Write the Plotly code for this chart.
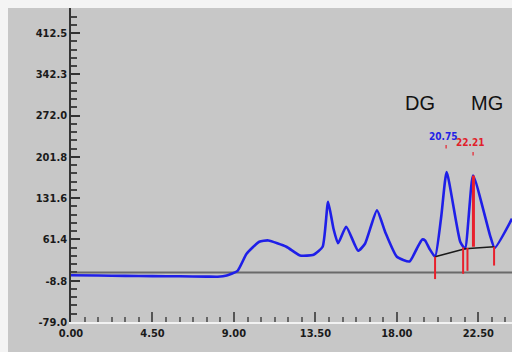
import plotly.graph_objects as go

# ---- data ----
time_min = [0.0, 1.5, 3.0, 4.5, 6.0, 7.5, 8.1, 8.6, 9.2, 9.7, 10.4, 10.9, 11.9, 12.65, 13.4,
            13.9, 14.2, 14.5, 14.75, 15.2, 15.86, 16.24, 16.9, 17.35, 18.0, 18.7, 19.1,
            19.4, 19.56, 19.8, 20.11, 20.45, 20.75, 21.5, 21.77, 22.21, 23.15, 23.4, 24.36]
signal = [0.5, 0.0, -0.5, -1.0, -1.3, -1.8, -2.0, 0.0, 8.0, 37.0, 57.5, 59.7, 49.0, 34.2, 35.4,
          49.0, 125.5, 79.6, 55.0, 83.0, 42.2, 54.0, 110.8, 74.5, 32.0, 24.0, 45.6,
          61.4, 59.7, 45.6, 32.0, 100.0, 176.0, 57.5, 46.0, 170.0, 68.0, 47.0, 96.7]

ref_line_level = 5.0
baseline_t = [20.11, 21.77, 23.37]
baseline_v = [32.0, 45.6, 49.0]

# integration event markers (time, top, bottom)
marker_t = [20.11, 21.66, 21.9, 23.37]
marker_top = [32.0, 48.0, 47.0, 49.0]
marker_bot = [-6.0, 3.0, 8.0, 17.0]
apex_t = 22.23
apex_top = 170.0
apex_bot = 49.0

peak_names = ["DG", "MG"]
peak_name_t = [19.28, 22.98]
peak_name_v = [294.0, 294.0]
peak_rt_text = ["20.75", "22.21"]
peak_rt_t = [20.55, 22.06]
peak_rt_v = [237.0, 227.0]
peak_rt_colors = ["#2323e6", "#e0202a"]
rt_tick_t = [20.72, 22.21]
rt_tick_v = [[216.0, 222.0], [204.0, 210.0]]

y_tick_vals = [-79.0, -8.8, 61.4, 131.6, 201.8, 272.0, 342.3, 412.5]
y_tick_text = ["-79.0", "-8.8", "61.4", "131.6", "201.8", "272.0", "342.3", "412.5"]
x_tick_vals = [0.0, 4.5, 9.0, 13.5, 18.0, 22.5]
x_tick_text = ["0.00", "4.50", "9.00", "13.50", "18.00", "22.50"]

BG = "#c7c7c7"
FONT = "DejaVu Sans Condensed, Liberation Sans, Arial, sans-serif"

fig = go.Figure()

# horizontal reference line
fig.add_trace(go.Scatter(x=[0, 24.36], y=[ref_line_level, ref_line_level], mode="lines",
                         line=dict(color="#6a6a6a", width=2), hoverinfo="skip"))

# main chromatogram trace
fig.add_trace(go.Scatter(x=time_min, y=signal, mode="lines",
                         line=dict(color="#1f1fe8", width=2.6, shape="spline", smoothing=0.5),
                         hoverinfo="skip"))

# integration baseline
fig.add_trace(go.Scatter(x=baseline_t, y=baseline_v, mode="lines",
                         line=dict(color="#1a1a1a", width=1.6), hoverinfo="skip"))

# red event markers
for t, top, bot in zip(marker_t, marker_top, marker_bot):
    fig.add_trace(go.Scatter(x=[t, t], y=[top, bot], mode="lines",
                             line=dict(color="#e8202c", width=2), hoverinfo="skip"))
fig.add_trace(go.Scatter(x=[apex_t, apex_t], y=[apex_top, apex_bot], mode="lines",
                         line=dict(color="#e8202c", width=3), hoverinfo="skip"))
for t, vv in zip(rt_tick_t, rt_tick_v):
    fig.add_trace(go.Scatter(x=[t, t], y=vv, mode="lines",
                             line=dict(color="#e8202c", width=1.2), hoverinfo="skip"))

for name, t, v in zip(peak_names, peak_name_t, peak_name_v):
    fig.add_annotation(x=t, y=v, xref="x", yref="y", text=name, showarrow=False,
                       font=dict(family="Liberation Sans, Arial", size=20, color="#111111"))
for txt, t, v, c in zip(peak_rt_text, peak_rt_t, peak_rt_v, peak_rt_colors):
    fig.add_annotation(x=t, y=v, xref="x", yref="y", text="<b>" + txt + "</b>", showarrow=False,
                       font=dict(family=FONT, size=10, color=c), borderpad=0)

# gray panel everywhere except a thin white border on the top/left
plot_w = 512 - 71
plot_h = 352 - 8 - 30
fig.add_shape(type="rect", xref="paper", yref="paper", layer="below",
              x0=-63 / plot_w, x1=1.0, y0=-30 / plot_h, y1=1.0,
              fillcolor=BG, line=dict(width=0))

fig.update_layout(
    width=512, height=352,
    margin=dict(l=71, r=0, t=8, b=30),
    paper_bgcolor="#f4f4f4",
    plot_bgcolor=BG,
    showlegend=False,
    xaxis=dict(range=[0, 24.36], tickmode="array", tickvals=x_tick_vals,
               ticktext=["<b>" + s + "</b>" for s in x_tick_text],
               showgrid=False, zeroline=False, showline=True, linecolor="#f2f2f2", linewidth=2,
               ticks="inside", ticklen=10, tickcolor="#555555", tickwidth=1.5,
               minor=dict(ticks="inside", ticklen=5, tickcolor="#666666", tick0=0, dtick=0.75),
               tickfont=dict(family=FONT, size=11, color="#1a1a1a")),
    yaxis=dict(range=[-79.0, 455.0], tickmode="array", tickvals=y_tick_vals,
               ticktext=["<b>" + s + "</b>" for s in y_tick_text],
               showgrid=False, zeroline=False, showline=True, linecolor="#333333", linewidth=1.5,
               ticks="inside", ticklen=9, tickcolor="#333333", tickwidth=1.5,
               minor=dict(ticks="inside", ticklen=6, tickcolor="#444444", tick0=-79.0, dtick=14.04),
               tickfont=dict(family=FONT, size=11, color="#1a1a1a")),
)

fig.write_html("out.html")
